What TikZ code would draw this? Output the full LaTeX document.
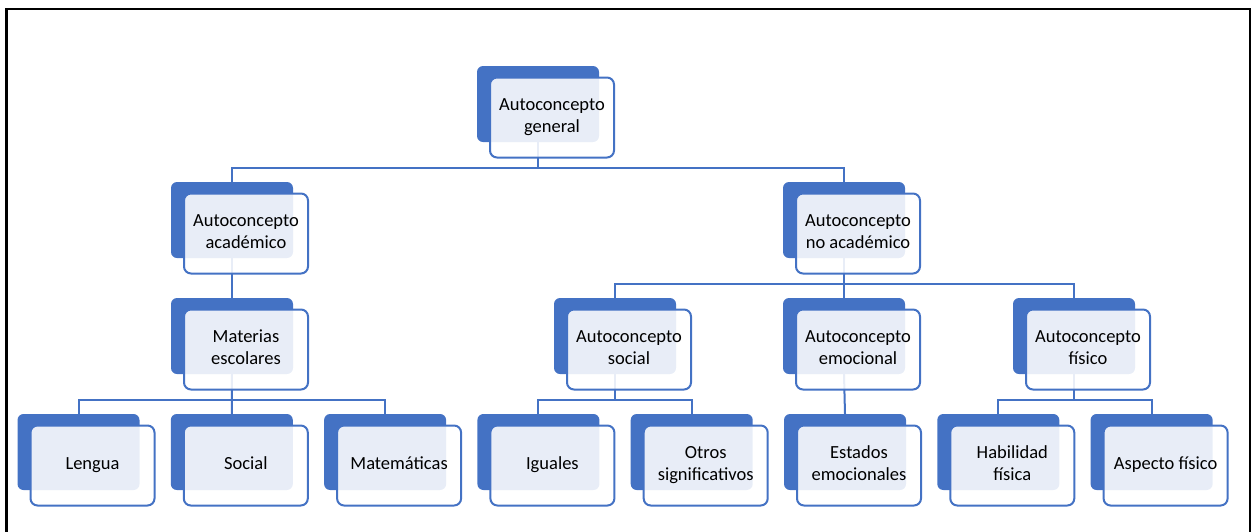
\documentclass[tikz,border=0pt]{standalone}
\usepackage{fontspec}
\setmainfont{Carlito}
\definecolor{ob}{HTML}{4472C4}
\begin{document}
\begin{tikzpicture}[x=1pt,y=-1pt,
  back/.style={fill=ob, rounded corners=6pt, minimum width=122pt, minimum height=76pt, inner sep=0pt, draw=none},
  front/.style={draw=ob, line width=2pt, fill=white, fill opacity=0.88, text opacity=1, rounded corners=7pt, minimum width=124pt, minimum height=80pt, align=center, font=\fontsize{18.5}{22}\selectfont, inner sep=0pt, text=black},
  conn/.style={draw=ob, line width=2pt}]
\useasboundingbox (0,0) rectangle (1254,531);
\draw[line width=2.5pt, black] (6.5,9) rectangle (1250,545);
% back boxes
\foreach \n/\x/\y in {g/538/66, aa/232/182, na/844/182, me/232/298, as/615/298, ae/844/298, af/1074/298,
  le/78.5/414, so/231.8/414, ma/385.1/414, ig/538.4/414, ot/691.7/414, ee/845/414, hf/998.3/414, ap/1151.6/414}
  {\node[back] (\n) at (\x,\y+38) {};}
% connectors
\draw[conn] (g.south) -- ++(0,26) -| (aa.north);
\draw[conn] (g.south) -- ++(0,26) -| (na.north);
\draw[conn] (aa.south) -- (me.north);
\draw[conn] (na.south) -- ++(0,26) -| (as.north);
\draw[conn] (na.south) -- ++(0,26) -| (af.north);
\draw[conn] (na.south) -- (ae.north);
\draw[conn] (me.south) -- ++(0,26) -| (le.north);
\draw[conn] (me.south) -- ++(0,26) -| (ma.north);
\draw[conn] (me.south) -- (so.north);
\draw[conn] (as.south) -- ++(0,26) -| (ig.north);
\draw[conn] (as.south) -- ++(0,26) -| (ot.north);
\draw[conn] (ae.south) -- (ee.north);
\draw[conn] (af.south) -- ++(0,26) -| (hf.north);
\draw[conn] (af.south) -- ++(0,26) -| (ap.north);
% front boxes
\foreach \n/\t in {g/{\strut Autoconcepto\\\strut general}, aa/{\strut Autoconcepto\\\strut académico}, na/{\strut Autoconcepto\\\strut no académico},
  me/{\strut Materias\\\strut escolares}, as/{\strut Autoconcepto\\\strut social}, ae/{\strut Autoconcepto\\\strut emocional}, af/{\strut Autoconcepto\\\strut físico},
  le/{\strut Lengua}, so/{\strut Social}, ma/{\strut Matemáticas}, ig/{\strut Iguales}, ot/{\strut Otros\\\strut significativos},
  ee/{\strut Estados\\\strut emocionales}, hf/{\strut Habilidad\\\strut física}, ap/{\strut Aspecto físico}}
  {\node[front] (f\n) at ([shift={(14,13.5)}]\n.center) {\t};}
\end{tikzpicture}
\end{document}
